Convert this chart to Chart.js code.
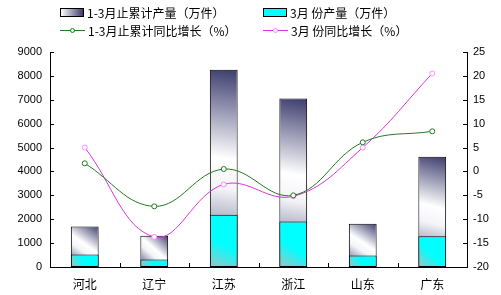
<!DOCTYPE html>
<html>
<head>
<meta charset="utf-8">
<script src="https://cdn.jsdelivr.net/npm/chart.js@4/dist/chart.umd.min.js"></script>
<style>
  body { margin: 0; background: #fff; }
  #wrap { position: relative; width: 501px; height: 295px; }
  #legend { position: absolute; left: 0; top: 0; width: 501px; height: 44px;
            font: 12px "Noto Sans CJK SC", sans-serif; color: #000; }
  .item { position: absolute; display: flex; align-items: center; white-space: nowrap; }
  .box { width: 24px; height: 9px; border: 1px solid #000; margin-right: 3px; box-sizing: border-box; }
  .ln { width: 25px; height: 9px; margin-right: 3px; position: relative; }
  .ln i { position: absolute; left: 0; right: 0; top: 4px; height: 1px; }
  .ln b { position: absolute; left: 10px; top: 2px; width: 5px; height: 5px; border-radius: 50%;
          background: #fff; box-sizing: border-box; border: 1px solid; }
</style>
</head>
<body>
<div id="wrap">
  <canvas id="chart" width="501" height="295"></canvas>
  <div id="legend">
    <div class="item" style="left:60px;top:4px"><span class="box" style="background:linear-gradient(to left,#3c3c6e,#fff)"></span>1-3月止累计产量（万件）</div>
    <div class="item" style="left:263px;top:4px"><span class="box" style="background:#00ffff"></span>3月 份产量（万件）</div>
    <div class="item" style="left:60px;top:22px"><span class="ln"><i style="background:#1f7a1f"></i><b style="border-color:#1f7a1f"></b></span>1-3月止累计同比增长（%）</div>
    <div class="item" style="left:263px;top:22px"><span class="ln"><i style="background:#dd33dd"></i><b style="border-color:#ff88ff"></b></span>3月 份同比增长（%）</div>
  </div>
</div>
<script>
// Kategorien und Werte
const provinces = ["河北", "辽宁", "江苏", "浙江", "山东", "广东"];
const totalOutput = [1700, 1310, 8260, 7050, 1815, 4620];   // 1-3月止累计产量（万件）
const marchOutput = [520, 310, 2190, 1900, 477, 1285];      // 3月份产量（万件）
const totalGrowth = [1.7, -7.3, 0.5, -5.0, 6.1, 8.4];       // 1-3月止累计同比增长（%）
const marchGrowth = [5.0, -13.7, -2.7, -5.2, 5.0, 20.5];    // 3月份同比增长（%）

const tickFont = { family: "'Liberation Sans', Arial, sans-serif", size: 11 };

// Verlauf für die Balken, berechnet über die Skalen des Diagramms
function barGradient(ctx, values, stops) {
  const chart = ctx.chart;
  const x = chart.scales.x, y = chart.scales.y;
  if (!chart.chartArea || ctx.dataIndex === undefined) return stops[0][1];
  const cx = x.getPixelForValue(ctx.dataIndex);
  const half = (x.getPixelForValue(1) - x.getPixelForValue(0)) * 0.2;
  const top = y.getPixelForValue(values[ctx.dataIndex]);
  const bottom = y.getPixelForValue(0);
  const g = chart.ctx.createLinearGradient(cx + half, top, cx - half, bottom);
  stops.forEach(s => g.addColorStop(s[0], s[1]));
  return g;
}

// Ticks nach innen zeichnen
const innerTicks = {
  id: "innerTicks",
  afterDraw(chart) {
    const c = chart.ctx, a = chart.chartArea;
    c.save();
    c.strokeStyle = "#000";
    c.lineWidth = 1;
    c.beginPath();
    chart.scales.y.ticks.forEach(t => {
      const py = Math.round(chart.scales.y.getPixelForValue(t.value)) + 0.5;
      c.moveTo(a.left, py); c.lineTo(a.left + 4, py);
    });
    chart.scales.y1.ticks.forEach(t => {
      const py = Math.round(chart.scales.y1.getPixelForValue(t.value)) + 0.5;
      c.moveTo(a.right, py); c.lineTo(a.right - 4, py);
    });
    for (let i = 1; i < provinces.length; i++) {
      const px = Math.round((chart.scales.x.getPixelForValue(i - 1) + chart.scales.x.getPixelForValue(i)) / 2) + 0.5;
      c.moveTo(px, a.bottom); c.lineTo(px, a.bottom - 4);
    }
    c.stroke();
    c.restore();
  }
};

new Chart(document.getElementById("chart"), {
  type: "bar",
  data: {
    labels: provinces,
    datasets: [
      {
        type: "line", label: "1-3月止累计同比增长（%）", data: totalGrowth, yAxisID: "y1",
        borderColor: "#1f7a1f", borderWidth: 1, tension: 0.4,
        pointRadius: 2.5, pointBackgroundColor: "#fff", pointBorderColor: "#1f7a1f", pointBorderWidth: 1,
        order: 0
      },
      {
        type: "line", label: "3月 份同比增长（%）", data: marchGrowth, yAxisID: "y1",
        borderColor: "#dd33dd", borderWidth: 1, tension: 0.4,
        pointRadius: 2.5, pointBackgroundColor: "#fff", pointBorderColor: "#ff88ff", pointBorderWidth: 1,
        order: 0
      },
      {
        label: "3月 份产量（万件）", data: marchOutput, yAxisID: "y", grouped: false,
        backgroundColor: ctx => barGradient(ctx, marchOutput, [[0, "#00ffff"], [0.55, "#00ffff"], [1, "#9cc4c4"]]),
        borderColor: "#000", borderWidth: 1, borderSkipped: false,
        barPercentage: 0.4, categoryPercentage: 1, order: 1
      },
      {
        label: "1-3月止累计产量（万件）", data: totalOutput, yAxisID: "y", grouped: false,
        backgroundColor: ctx => barGradient(ctx, totalOutput, [[0, "#3c3c6e"], [0.45, "#ffffff"], [0.6, "#f4f4f8"], [1, "#4a4a7a"]]),
        borderColor: "#000", borderWidth: 1, borderSkipped: false,
        barPercentage: 0.4, categoryPercentage: 1, order: 2
      }
    ]
  },
  options: {
    responsive: false,
    animation: false,
    layout: { padding: { top: 52, left: 0, right: 0, bottom: 0 } },
    plugins: { legend: { display: false }, tooltip: { enabled: false } },
    scales: {
      x: {
        offset: true,
        grid: { display: false },
        border: { display: true, color: "#000" },
        ticks: { color: "#000", font: { family: "'Noto Sans CJK SC', sans-serif", size: 12 }, padding: 2 },
        afterFit: s => { s.height = 28; }
      },
      y: {
        position: "left", min: 0, max: 9000,
        ticks: { stepSize: 1000, color: "#000", font: tickFont, padding: 8, callback: v => String(v) },
        grid: { display: false, drawTicks: false },
        border: { display: true, color: "#000" },
        afterFit: s => { s.width = 50; }
      },
      y1: {
        position: "right", min: -20, max: 25,
        ticks: { stepSize: 5, color: "#000", font: tickFont, padding: 6, callback: v => String(v) },
        grid: { display: false, drawTicks: false },
        border: { display: true, color: "#000" },
        afterFit: s => { s.width = 34; }
      }
    }
  },
  plugins: [innerTicks]
});
</script>
</body>
</html>
